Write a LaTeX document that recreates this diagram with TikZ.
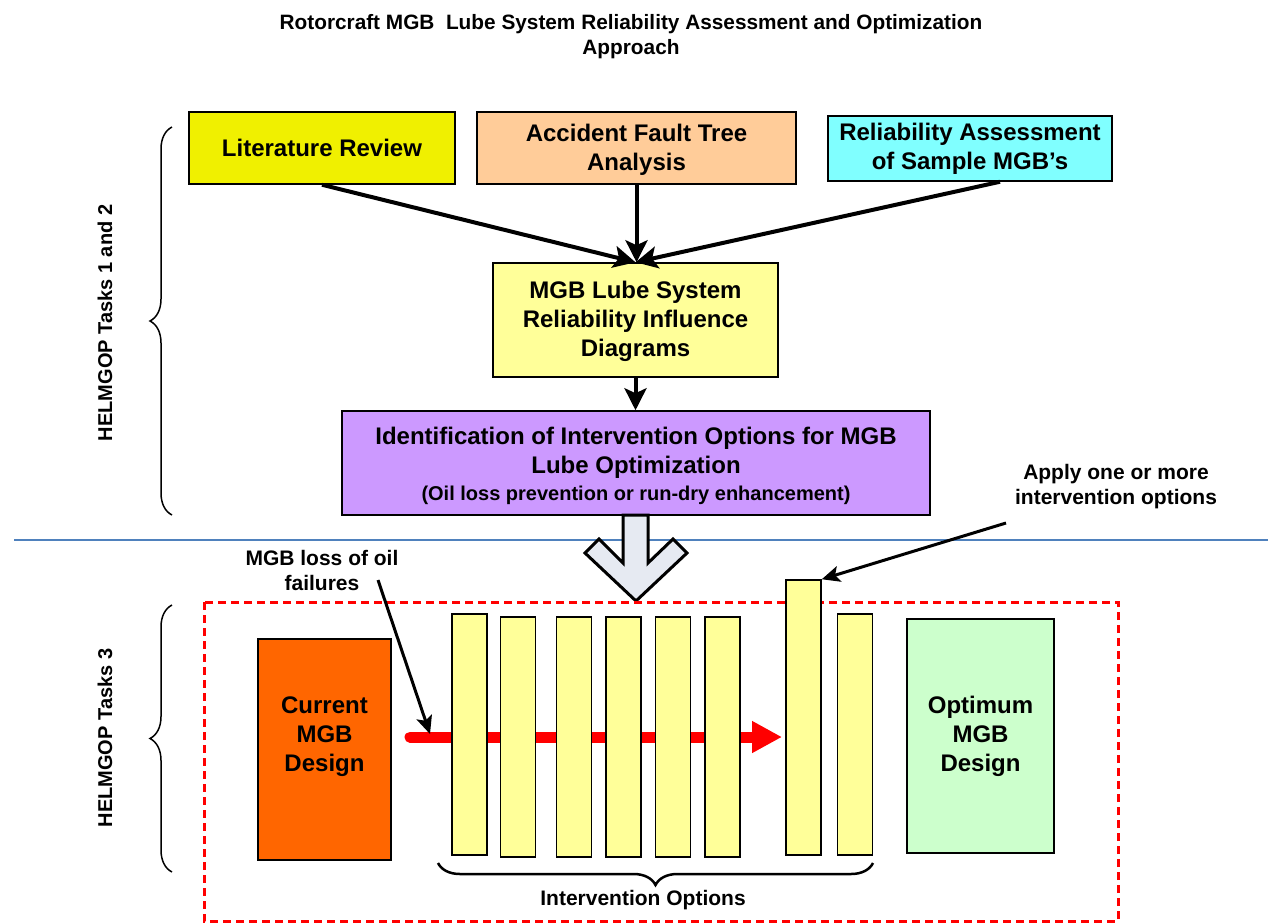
\documentclass[tikz,border=0pt]{standalone}
\usepackage{fontspec}
\setmainfont{Liberation Sans}
\usetikzlibrary{arrows.meta,decorations.pathreplacing,calc}
\definecolor{litY}{RGB}{240,240,0}
\definecolor{aftO}{RGB}{255,204,153}
\definecolor{relC}{RGB}{128,255,255}
\definecolor{paleY}{RGB}{255,255,153}
\definecolor{purp}{RGB}{204,153,255}
\definecolor{curO}{RGB}{255,102,0}
\definecolor{optG}{RGB}{204,255,204}
\definecolor{bigA}{RGB}{230,234,242}
\definecolor{blueL}{RGB}{79,129,189}
\begin{document}
\begin{tikzpicture}[x=1pt,y=-1pt,
  box/.style={draw=black,line width=1.5pt,inner sep=0pt,align=center,font=\fontsize{24}{29}\selectfont\bfseries},
  boxtext/.style={align=center,inner sep=0pt,font=\fontsize{24}{29}\selectfont\bfseries},
  ibar/.style={draw=black,line width=1.5pt,fill=paleY,inner sep=0pt,minimum width=35pt},
  lbl/.style={align=center,inner sep=0pt,font=\fontsize{21}{25}\selectfont\bfseries},
  conn/.style={line width=4pt,-{Stealth[length=22pt,width=22pt,inset=5pt]}},
  thinarrow/.style={line width=3pt,-{Stealth[length=18pt,width=16pt,inset=4pt]}},
  brc/.style={decorate,decoration={brace,amplitude=22pt},line width=1.5pt}]
\useasboundingbox (0,0) rectangle (1271,922);

% title
\node[lbl,font=\fontsize{20.8}{25}\selectfont\bfseries] (title) at (631,37) {Rotorcraft MGB\ \ Lube System Reliability Assessment and Optimization\\Approach};

% top boxes
\node[box,fill=litY,minimum width=266pt,minimum height=72pt] (lit) at (322,148) {Literature Review};
\node[box,fill=aftO,minimum width=319pt,minimum height=72pt] (aft) at (636.5,148) {};
\node[boxtext] (afttext) at (636.5,150) {Accident Fault Tree\\Analysis};
\node[box,fill=relC,minimum width=284pt,minimum height=65pt] (rel) at (970,148.5) {Reliability Assessment\\of Sample MGB’s};
\node[box,fill=paleY,minimum width=285pt,minimum height=114pt] (mgb) at (635.5,320) {};
\node[boxtext] (mgbtext) at (635.5,321) {MGB Lube System\\Reliability Influence\\Diagrams};
\node[box,fill=purp,minimum width=588pt,minimum height=104pt] (ident) at (636,463) {};
\node[boxtext] (identtext) at (636,466) {Identification of Intervention Options for MGB\\Lube Optimization\\[-2pt]{\fontsize{20}{24}\selectfont(Oil loss prevention or run-dry enhancement)}};

\draw[conn] (lit.south) -- (mgb.north);
\draw[conn] (aft.south) -- (aft.south |- mgb.north);
\draw[conn] ([xshift=30pt]rel.south) -- (mgb.north);
\draw[conn] (mgb.south) -- (mgb.south |- ident.north);

% divider
\draw[blueL,line width=1.5pt] (14,540) -- (1268,540);

% big block arrow
\draw[fill=bigA,line width=3pt,line join=miter] (623,515) -- (648,515) -- (648,563) -- (673,539) -- (687,553) -- (636,601) -- (585,553) -- (599,539) -- (623,563) -- cycle;

% red dashed frame
\draw[red,line width=3pt,dash pattern=on 8pt off 5pt] (204,602) rectangle (1118,921);

% left braces and labels
\draw[brc] (172,515) -- (172,127);
\draw[brc] (172,872) -- (172,605);
\node[lbl,font=\fontsize{20}{24}\selectfont\bfseries,rotate=90] (t12) at (105,323) {HELMGOP Tasks 1 and 2};
\node[lbl,font=\fontsize{20}{24}\selectfont\bfseries,rotate=90] (t3) at (105,738) {HELMGOP Tasks 3};

% red flow arrow (behind bars)
\coordinate (rs) at (410,737);
\coordinate (re) at (782,737);
\draw[red,line width=11pt,line cap=round,-{Triangle[length=30pt,width=30pt]}] (rs) -- (re);

% design boxes
\node[box,fill=curO,minimum width=133pt,minimum height=221pt] (cur) at (324.5,749.5) {};
\node[boxtext] (curtext) at (324.5,737) {Current\\MGB\\Design};
\node[box,fill=optG,minimum width=147pt,minimum height=234pt] (opt) at (980.5,736) {Optimum\\MGB\\Design};

% intervention bars
\node[ibar,minimum height=241pt] (b1) at (469.5,734.5) {};
\node[ibar,minimum height=240pt] (b2) at (518,737) {};
\node[ibar,minimum height=240pt] (b3) at (574,737) {};
\node[ibar,minimum height=240pt] (b4) at (623.5,737) {};
\node[ibar,minimum height=240pt] (b5) at (673,737) {};
\node[ibar,minimum height=240pt] (b6) at (722.5,737) {};
\node[ibar,minimum height=275pt] (b7) at (803.5,717.5) {};
\node[ibar,minimum height=241pt] (b8) at (855,734.5) {};

% bottom brace
\draw[brc,line width=2.5pt] (873,863) -- (438,863);
\node[lbl] (io) at (643,900) {Intervention Options};

% callouts
\node[lbl] (loss) at (322,570) {MGB loss of oil\\failures};
\coordinate (ls) at (378,580);
\coordinate (lt) at (430,734);
\draw[thinarrow] (ls) -- (lt);

\node[lbl] (apply) at (1116,487) {Apply one or more\\intervention options};
\coordinate (as) at (1006,523);
\draw[thinarrow] (as) -- (b7.north east);
\end{tikzpicture}
\end{document}
